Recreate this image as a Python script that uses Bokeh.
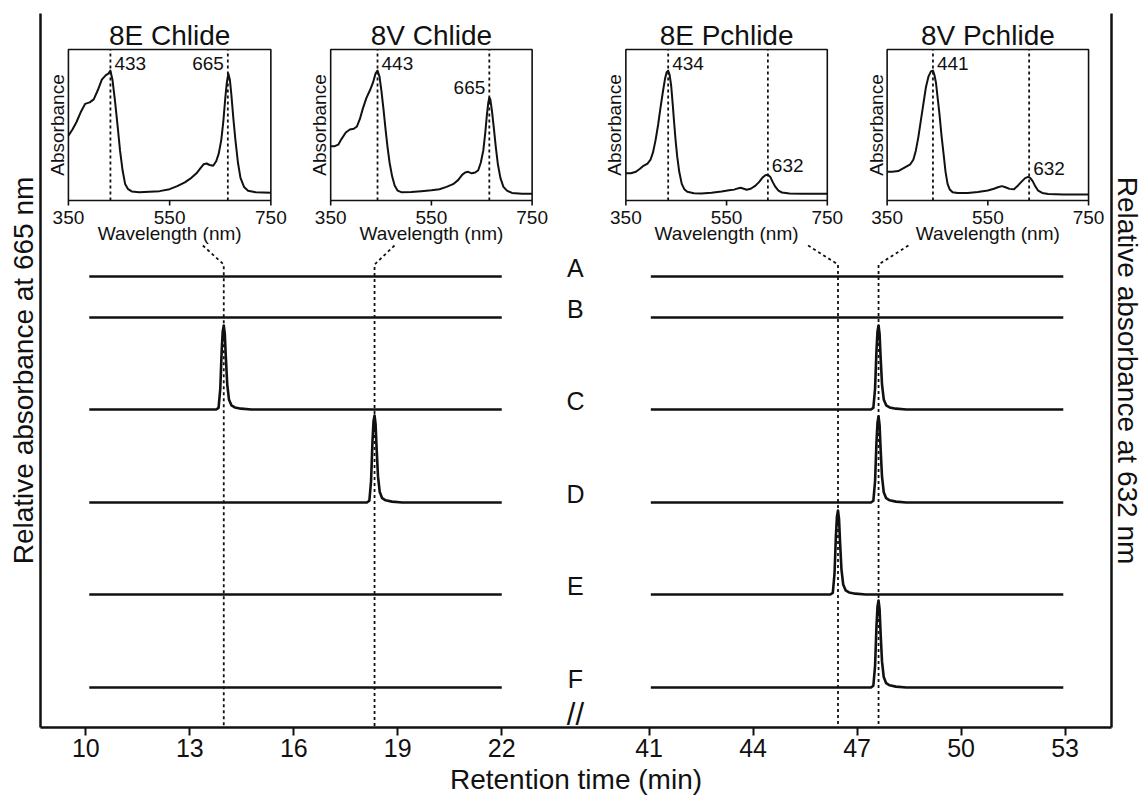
import numpy as np
from bokeh.plotting import figure
from bokeh.models import Range1d, FixedTicker, LinearAxis
from bokeh.embed import file_html
from bokeh.resources import INLINE
from bokeh.core.properties import value

FONT = "Liberation Sans"
INK = "#111111"

# ---------------- chromatogram data ----------------
trace_labels = ["A", "B", "C", "D", "E", "F"]
chlide_rt = [None, None, 13.98, 18.33, None, None]        # min, 665 nm trace
chlide_height = [0, 0, 84, 87, 0, 0]
pchlide_rt = [None, None, 47.62, 47.62, 46.45, 47.62]     # min, 632 nm trace
pchlide_height = [0, 0, 84, 86, 84, 87]
# shape of one HPLC peak (offset in min, relative height)
peak_dt = [-0.22, -0.15, -0.10, -0.06, -0.03, 0.0, 0.03, 0.06, 0.10, 0.15, 0.22, 0.32, 0.50, 0.80]
peak_shape = [0.0, 0.02, 0.25, 0.70, 0.93, 1.0, 0.90, 0.62, 0.30, 0.12, 0.05, 0.025, 0.01, 0.0]
left_ticks = [10, 13, 16, 19, 22]
right_ticks = [41, 44, 47, 50, 53]
marker_rt = [13.98, 18.33, 46.45, 47.62]

# ---------------- absorption spectra ----------------
spec_titles = ["8E Chlide", "8V Chlide", "8E Pchlide", "8V Pchlide"]
chlide8e_wl = [350, 358, 366, 375, 383, 392, 400, 408, 416, 424, 429, 433, 437, 442, 447, 452, 457, 462, 468, 475,
               490, 510, 530, 550, 565, 580, 593, 603, 611, 617, 623, 629, 636, 642, 647, 652, 656, 660, 663, 666,
               669, 672, 676, 680, 685, 690, 697, 705, 720, 750]
chlide8e_abs = [0.43, 0.47, 0.52, 0.59, 0.64, 0.65, 0.67, 0.73, 0.80, 0.83, 0.84, 0.86, 0.80, 0.66, 0.50, 0.33, 0.20, 0.11, 0.075, 0.06,
                0.055, 0.058, 0.062, 0.075, 0.095, 0.12, 0.15, 0.18, 0.215, 0.24, 0.245, 0.235, 0.23, 0.26, 0.31, 0.40, 0.52, 0.68, 0.78, 0.84,
                0.80, 0.70, 0.54, 0.40, 0.25, 0.15, 0.09, 0.065, 0.055, 0.052]
chlide8v_wl = [350, 358, 365, 372, 380, 388, 396, 402, 408, 414, 421, 428, 434, 439, 443, 447, 451, 455, 459, 463,
               467, 472, 477, 483, 490, 510, 530, 550, 566, 580, 593, 603, 611, 617, 623, 630, 637, 643, 648, 653,
               657, 660, 663, 665, 667, 670, 674, 678, 682, 687, 693, 700, 710, 730, 750]
chlide8v_abs = [0.36, 0.36, 0.37, 0.41, 0.45, 0.47, 0.475, 0.49, 0.54, 0.61, 0.68, 0.73, 0.78, 0.84, 0.86, 0.82, 0.72, 0.60, 0.47, 0.35,
                0.25, 0.16, 0.10, 0.065, 0.055, 0.057, 0.062, 0.068, 0.075, 0.09, 0.108, 0.135, 0.17, 0.185, 0.19, 0.18, 0.185, 0.20, 0.25, 0.33,
                0.45, 0.56, 0.65, 0.68, 0.67, 0.60, 0.48, 0.35, 0.24, 0.15, 0.09, 0.065, 0.05, 0.045, 0.045]
pchlide8e_wl = [350, 360, 370, 378, 385, 393, 399, 404, 409, 414, 419, 424, 428, 431, 434, 437, 440, 443, 446, 449,
                452, 456, 461, 466, 472, 485, 500, 520, 540, 555, 565, 572, 578, 584, 590, 598, 606, 614, 621, 627,
                632, 637, 642, 647, 653, 660, 675, 700, 750]
pchlide8e_abs = [0.18, 0.18, 0.19, 0.21, 0.23, 0.245, 0.27, 0.32, 0.40, 0.50, 0.62, 0.73, 0.81, 0.85, 0.86, 0.83, 0.76, 0.64, 0.51, 0.39,
                 0.29, 0.19, 0.11, 0.075, 0.058, 0.048, 0.047, 0.052, 0.06, 0.068, 0.072, 0.08, 0.084, 0.078, 0.071, 0.078, 0.095, 0.12, 0.15, 0.168,
                 0.17, 0.155, 0.12, 0.09, 0.065, 0.053, 0.046, 0.044, 0.044]
pchlide8v_wl = [350, 360, 372, 380, 388, 396, 402, 407, 412, 417, 422, 427, 432, 437, 441, 444, 447, 450, 454, 458,
                462, 466, 470, 474, 480, 490, 510, 530, 550, 562, 570, 578, 585, 593, 602, 610, 617, 624, 630, 634,
                639, 644, 650, 658, 670, 700, 750]
pchlide8v_abs = [0.19, 0.19, 0.195, 0.21, 0.225, 0.24, 0.27, 0.33, 0.42, 0.53, 0.64, 0.75, 0.82, 0.855, 0.86, 0.83, 0.78, 0.69, 0.57, 0.43,
                 0.31, 0.19, 0.11, 0.075, 0.055, 0.049, 0.05, 0.056, 0.066, 0.078, 0.088, 0.095, 0.088, 0.077, 0.075, 0.10, 0.125, 0.148, 0.156, 0.15,
                 0.128, 0.095, 0.065, 0.05, 0.043, 0.04, 0.04]
spec_wl = [chlide8e_wl, chlide8v_wl, pchlide8e_wl, pchlide8v_wl]
spec_abs = [chlide8e_abs, chlide8v_abs, pchlide8e_abs, pchlide8v_abs]
spec_peaks = [[433, 665], [443, 665], [434, 632], [441, 632]]
spec_ticks = [350, 550, 750]

# ---------------- layout (page pixels) ----------------
W, H = 1145, 802
FL, FR, FT, FB = 40, 1114, 13, 727          # frame edges
PX_PER_MIN = 34.76
GAP = 4.25                                  # width of the axis break, in min
X0 = 10 - 1.307
X1 = X0 + (FR - FL) / PX_PER_MIN
Y1 = FB - FT


def mx(t):                      # broken time axis
    return t if t < 30 else t - 41 + 22 + GAP


def px_x(px):                   # page pixel -> data x (layout only)
    return X0 + (px - FL) / PX_PER_MIN


def px_y(py):                   # page pixel -> data y (layout only)
    return FB - py


baselines = [px_y(v) for v in [276, 317, 409, 502, 594, 687]]
x_mid = mx(22) + GAP / 2

p = figure(width=W, height=H, x_range=Range1d(X0, X1), y_range=Range1d(0, Y1),
           output_backend="svg", toolbar_location=None, y_axis_location=None,
           min_border_left=FL, min_border_right=W - FR, min_border_top=FT, min_border_bottom=H - FB)
p.outline_line_color = None
p.grid.visible = False
p.background_fill_color = "white"
p.border_fill_color = "white"

# bottom (broken) axis
ticks = [mx(t) for t in left_ticks + right_ticks]
xa = p.xaxis[0]
xa.ticker = FixedTicker(ticks=ticks, minor_ticks=[])
xa.major_label_overrides = {mx(t): str(t) for t in left_ticks + right_ticks}
xa.axis_line_width = 2.5
xa.axis_line_color = INK
xa.major_tick_line_width = 2
xa.major_tick_line_color = INK
xa.major_tick_in = 0
xa.major_tick_out = 8
xa.minor_tick_line_color = None
xa.major_label_text_font = FONT
xa.major_label_text_font_size = "25px"
xa.major_label_text_color = INK
xa.major_label_standoff = 3
xa.axis_label = "Retention time (min)"
xa.axis_label_text_font = FONT
xa.axis_label_text_font_size = "28px"
xa.axis_label_text_font_style = "normal"
xa.axis_label_text_color = INK
xa.axis_label_standoff = 4

for side, lab, stand in [("left", "Relative absorbance at 665 nm", 2),
                         ("right", "Relative absorbance at 632 nm", 0)]:
    ax = LinearAxis(ticker=FixedTicker(ticks=[]), axis_line_width=2.5, axis_line_color=INK,
                    major_tick_out=0, major_tick_in=0, minor_tick_out=0, major_label_standoff=0,
                    axis_label=lab, axis_label_text_font=FONT, axis_label_text_font_size="28px",
                    axis_label_text_font_style="normal", axis_label_text_color=INK,
                    axis_label_standoff=stand)
    p.add_layout(ax, side)

# axis break mark
p.text(x=[x_mid], y=[px_y(714)], text=["//"], text_align="center", text_baseline="middle",
       text_font=value(FONT), text_font_size="31px", text_color=INK)

# dotted marker lines connecting spectra to peaks
marker_dx = [-21, 20, -30, 30]
for rt, dx in zip(marker_rt, marker_dx):
    x = mx(rt)
    p.line([x + dx / PX_PER_MIN, x, x], [px_y(245), px_y(264), 0], line_color=INK,
           line_width=1.8, line_dash="3 3")

# chromatograms
for i in range(len(trace_labels)):
    base = baselines[i]
    for t0, t1, rt, h in [(10.1, 22.0, chlide_rt[i], chlide_height[i]),
                          (41.05, 52.95, pchlide_rt[i], pchlide_height[i])]:
        ts, ys = [t0], [base]
        if rt is not None:
            for dt, s in zip(peak_dt, peak_shape):
                ts.append(rt + dt)
                ys.append(base + h * s)
        ts.append(t1)
        ys.append(base)
        p.line([mx(t) for t in ts], ys, line_color=INK, line_width=2.6, line_join="round")

p.text(x=[x_mid] * len(trace_labels), y=[b + 9 for b in baselines], text=trace_labels,
       text_align="center", text_baseline="middle", text_font=value(FONT),
       text_font_size="25px", text_color=INK)

# inset spectra
inset_px = [(68, 271), (331, 533), (627, 829), (889, 1091)]
INSET_TOP, INSET_BOTTOM = 49, 200
peak_label_specs = [
    [("433", 433, 0.91, "left"), ("665", 665, 0.91, "right")],
    [("443", 443, 0.91, "left"), ("665", 665, 0.75, "right")],
    [("434", 434, 0.91, "left"), ("632", 632, 0.23, "left")],
    [("441", 441, 0.91, "left"), ("632", 632, 0.21, "left")],
]
for k in range(4):
    l, r = inset_px[k]
    sub = p.subplot(x_source=Range1d(350, 750), y_source=Range1d(0, 1),
                    x_target=Range1d(px_x(l), px_x(r)),
                    y_target=Range1d(px_y(INSET_BOTTOM), px_y(INSET_TOP)))
    for pk in spec_peaks[k]:
        sub.segment(x0=[pk], y0=[0], x1=[pk], y1=[1], line_color=INK, line_width=1.8, line_dash="3 3")
    sub.line(spec_wl[k], spec_abs[k], line_color=INK, line_width=2.0, line_join="round")
    sub.quad(left=[350], right=[750], bottom=[0], top=[1], fill_color=None,
             line_color=INK, line_width=1.6)
    sub.segment(x0=spec_ticks, y0=[0] * 3, x1=spec_ticks, y1=[-5 / 151] * 3,
                line_color=INK, line_width=1.6)
    sub.text(x=spec_ticks, y=[0] * 3, text=[str(t) for t in spec_ticks], y_offset=17,
             text_align="center", text_baseline="middle", text_font=value(FONT),
             text_font_size="19px", text_color=INK)
    sub.text(x=[550], y=[0], text=["Wavelength (nm)"], y_offset=33,
             text_align="center", text_baseline="middle", text_font=value(FONT),
             text_font_size="19px", text_color=INK)
    sub.text(x=[550], y=[1], text=[spec_titles[k]], y_offset=-14,
             text_align="center", text_baseline="middle", text_font=value(FONT),
             text_font_size="28px", text_color=INK)
    sub.text(x=[350], y=[0.5], text=["Absorbance"], angle=np.pi / 2, x_offset=-11,
             text_align="center", text_baseline="middle", text_font=value(FONT),
             text_font_size="19px", text_color=INK)
    for txt, wl, yy, al in peak_label_specs[k]:
        sub.text(x=[wl], y=[yy], text=[txt], x_offset=4 if al == "left" else -4,
                 text_align=al, text_baseline="middle", text_font=value(FONT),
                 text_font_size="19px", text_color=INK)

open("out.html", "w").write(file_html(p, INLINE))
